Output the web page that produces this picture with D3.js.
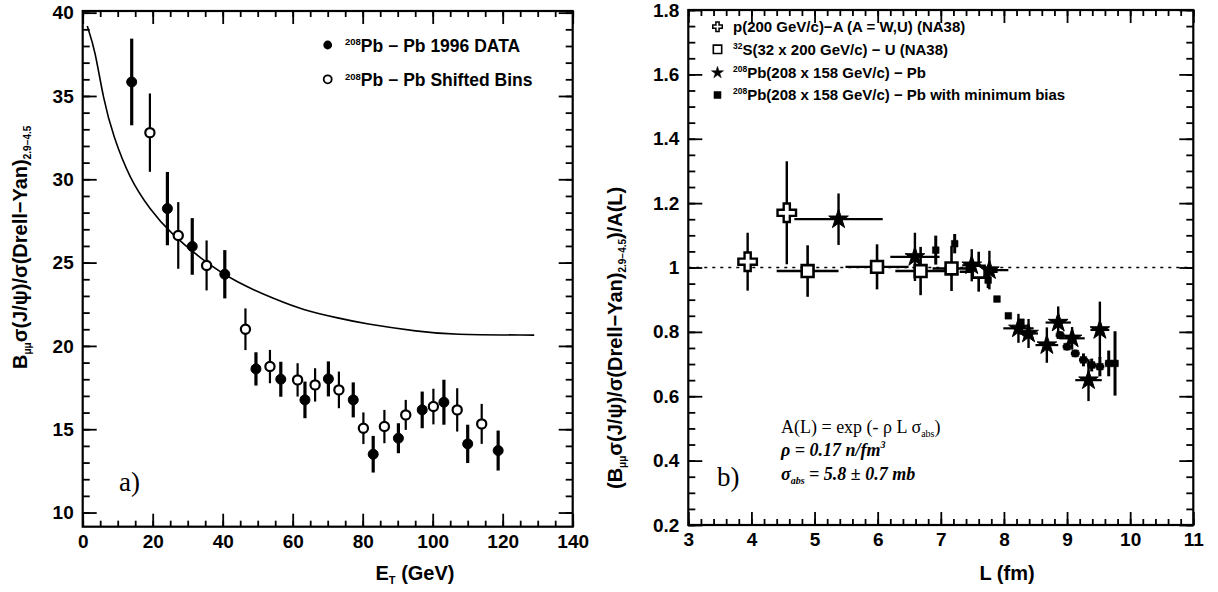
<!DOCTYPE html>
<html>
<head>
<meta charset="utf-8">
<script src="https://cdn.jsdelivr.net/npm/d3@7"></script>
<style>
body{margin:0;background:#fff}
svg text{font-family:"Liberation Sans",Arial,sans-serif;font-weight:bold;fill:#000}
svg text.serif{font-family:"Liberation Serif","Times New Roman",serif;font-weight:normal}
svg text.serif.bi{font-weight:bold;font-style:italic}
</style>
</head>
<body>
<script>
// ---- panel a) : J/psi over Drell-Yan vs E_T ----
var etData   = [14.0, 24.2, 31.3, 40.6, 49.5, 56.6, 63.5, 70.2, 77.3, 83.0, 90.2, 97.0, 103.2, 110.0, 118.7];
var ratioData = [35.84, 28.24, 25.97, 24.3, 18.62, 18.0, 16.76, 18.02, 16.76, 13.5, 14.46, 16.16, 16.62, 14.12, 13.72];
var errData  = [2.6, 2.2, 1.7, 1.45, 1.0, 1.05, 1.1, 1.05, 1.05, 1.1, 0.9, 1.1, 1.35, 1.15, 1.2];

var etShift   = [19.2, 27.3, 35.4, 46.5, 53.5, 61.4, 66.4, 73.2, 80.2, 86.2, 92.3, 100.2, 107.0, 114.0];
var ratioShift = [32.8, 26.63, 24.83, 21.0, 18.76, 17.96, 17.66, 17.36, 15.06, 15.16, 15.86, 16.36, 16.16, 15.32];
var errShift  = [2.35, 2.0, 1.5, 1.25, 1.0, 1.0, 1.0, 1.1, 0.95, 1.0, 0.9, 1.07, 1.3, 1.2];

var curveEt    = [1.3, 3.5, 5.9, 8.7, 13.5, 19.2, 24.9, 34.5, 44, 55, 63, 73.5, 80, 96.4, 105, 129];
var curveRatio = [39.2, 37.8, 34.8, 32.6, 30.0, 28.2, 26.8, 25.1, 23.8, 22.8, 22.15, 21.65, 21.35, 20.85, 20.68, 20.65];

var xTicksA = [0, 20, 40, 60, 80, 100, 120, 140];
var yTicksA = [10, 15, 20, 25, 30, 35, 40];

// ---- panel b) : ratio / A(L) vs L ----
var lPA = [3.94, 4.56], vPA = [1.018, 1.17], eyPA = [0.09, 0.16];

var lSU  = [4.89, 5.99, 6.68, 7.17, 7.6];
var vSU  = [0.989, 1.002, 0.989, 0.997, 0.987];
var eySU = [0.08, 0.07, 0.075, 0.07, 0.062];
var exSU = [0.49, 0.5, 0.4, 0.3, 0.3];

var lPb  = [5.38, 6.59, 7.49, 7.77, 8.23, 8.39, 8.68, 8.86, 9.08, 9.34, 9.52];
var vPb  = [1.15, 1.033, 1.007, 0.992, 0.811, 0.795, 0.759, 0.829, 0.78, 0.65, 0.806];
var eyPb = [0.08, 0.075, 0.05, 0.06, 0.045, 0.045, 0.055, 0.05, 0.035, 0.065, 0.088];
var exPb = [0.7, 0.39, 0.15, 0.3, 0.24, 0.15, 0.18, 0.2, 0.2, 0.21, 0.15];

var lMB  = [6.92, 7.22, 7.45, 7.75, 7.89, 8.07, 8.27, 8.89, 9.0, 9.13, 9.26, 9.39, 9.52, 9.66, 9.76];
var vMB  = [1.054, 1.074, 1.0, 0.961, 0.902, 0.85, 0.83, 0.79, 0.754, 0.733, 0.713, 0.697, 0.692, 0.702, 0.702];
var eyMB = [0.045, 0.03, 0.015, 0.025, 0.008, 0.008, 0.01, 0.012, 0.012, 0.012, 0.02, 0.02, 0.03, 0.04, 0.1];
var exMB = [0.03, 0.03, 0.03, 0.03, 0.03, 0.03, 0.03, 0.07, 0.07, 0.07, 0.07, 0.07, 0.07, 0.06, 0.05];

var xTicksB = [3, 4, 5, 6, 7, 8, 9, 10, 11];
var yTicksB = [0.2, 0.4, 0.6, 0.8, 1, 1.2, 1.4, 1.6, 1.8];

var svg = d3.select("body").append("svg")
    .attr("width", 1218).attr("height", 592);

function frameAxes(x, y, xt, xm, yt, ym) {
    var X = x.range(), Y = y.range();
    var g = svg.append("g");
    function add(gen, tx, ty, vals, size, labels) {
        var a = g.append("g").attr("transform", "translate(" + tx + "," + ty + ")")
            .call(gen.tickValues(vals).tickSize(size).tickPadding(labels ? 8 : 0)
                .tickFormat(labels ? function(d){ return d; } : ""));
        a.attr("font-family", null).attr("font-size", 19);
        a.select(".domain").remove();
        a.selectAll(".tick line").attr("stroke", "#000").attr("stroke-width", 1.8);
        return a;
    }
    add(d3.axisBottom(x), 0, Y[0], xt, -13, true);
    add(d3.axisBottom(x), 0, Y[0], xm, -6, false);
    add(d3.axisTop(x), 0, Y[1], xt, -13, false);
    add(d3.axisTop(x), 0, Y[1], xm, -6, false);
    add(d3.axisLeft(y), X[0], 0, yt, -14, true).selectAll("text").attr("dx", "-0.05em");
    add(d3.axisLeft(y), X[0], 0, ym, -7, false);
    add(d3.axisRight(y), X[1], 0, yt, -14, false);
    add(d3.axisRight(y), X[1], 0, ym, -7, false);
    g.append("rect")
        .attr("x", X[0]).attr("y", Y[1])
        .attr("width", X[1] - X[0]).attr("height", Y[0] - Y[1])
        .attr("fill", "none").attr("stroke", "#000").attr("stroke-width", 2.2);
}

// ================= panel a =================
var xA = d3.scaleLinear().domain([0, 140]).range([82.7, 572.7]);
var yA = d3.scaleLinear().domain([9.15, 40.1]).range([526.7, 11]);

frameAxes(xA, yA, xTicksA, d3.range(0, 141, 5), yTicksA, d3.range(10, 41, 1));

var curve = d3.line()
    .x(function(d, i){ return xA(curveEt[i]); })
    .y(function(d, i){ return yA(curveRatio[i]); })
    .curve(d3.curveBasis);
svg.append("path").datum(curveEt)
    .attr("d", curve).attr("fill", "none").attr("stroke", "#000").attr("stroke-width", 1.6);

function pointsA(ets, vals, errs, filled) {
    var g = svg.append("g");
    g.selectAll("line").data(ets).enter().append("line")
        .attr("x1", function(d){ return xA(d); }).attr("x2", function(d){ return xA(d); })
        .attr("y1", function(d, i){ return yA(vals[i] + errs[i]); })
        .attr("y2", function(d, i){ return yA(vals[i] - errs[i]); })
        .attr("stroke", "#000").attr("stroke-width", filled ? 3.2 : 2.2);
    g.selectAll("circle").data(ets).enter().append("circle")
        .attr("cx", function(d){ return xA(d); })
        .attr("cy", function(d, i){ return yA(vals[i]); })
        .attr("r", filled ? 5 : 4.6)
        .attr("fill", filled ? "#000" : "#fff")
        .attr("stroke", "#000").attr("stroke-width", filled ? 1 : 2.2);
}
pointsA(etData, ratioData, errData, true);
pointsA(etShift, ratioShift, errShift, false);

// legend a
var legA = svg.append("g").attr("font-size", 17.5);
legA.append("circle").attr("cx", 327.7).attr("cy", 45).attr("r", 4.4).attr("fill", "#000");
legA.append("circle").attr("cx", 327.7).attr("cy", 79.3).attr("r", 4)
    .attr("fill", "#fff").attr("stroke", "#000").attr("stroke-width", 1.8);
[["Pb − Pb 1996 DATA", 51.5], ["Pb − Pb Shifted Bins", 86]].forEach(function(r){
    var t = legA.append("text").attr("x", 345).attr("y", r[1]);
    t.append("tspan").attr("font-size", 9.5).attr("dy", -6.5).text("208");
    t.append("tspan").attr("dy", 6.5).text(r[0]);
});

svg.append("text").attr("class", "serif").attr("x", 119).attr("y", 491)
    .attr("font-size", 27).text("a)");

// axis titles
var tA = svg.append("text").attr("x", 415).attr("y", 580).attr("text-anchor", "middle").attr("font-size", 20);
tA.append("tspan").text("E");
tA.append("tspan").attr("font-size", 11).attr("dy", 4).text("T");
tA.append("tspan").attr("dy", -4).text(" (GeV)");

function yTitle(x, y, pre, post) {
    var t = svg.append("text").attr("transform", "translate(" + x + "," + y + ") rotate(-90)")
        .attr("text-anchor", "start").attr("font-size", 20);
    t.append("tspan").text(pre + "B");
    t.append("tspan").attr("font-size", 10).attr("dy", 4).text("μμ");
    t.append("tspan").attr("dy", -4).text("σ(J/ψ)/σ(Drell−Yan)");
    t.append("tspan").attr("font-size", 10).attr("dy", 4).text("2.9−4.5");
    t.append("tspan").attr("dy", -4).text(post);
}
yTitle(27, 369, "", "");

// ================= panel b =================
var xB = d3.scaleLinear().domain([3, 11]).range([688.3, 1193.3]);
var yB = d3.scaleLinear().domain([0.2, 1.8]).range([525, 10]);

frameAxes(xB, yB, xTicksB, d3.range(3, 11.01, 0.2), yTicksB, d3.range(0.2, 1.801, 0.05));

svg.append("line")
    .attr("x1", xB(3)).attr("x2", xB(11)).attr("y1", yB(1)).attr("y2", yB(1))
    .attr("stroke", "#000").attr("stroke-width", 1.5).attr("stroke-dasharray", "3,5");

function errB(ls, vs, eys, exs, wy, wx) {
    var g = svg.append("g").attr("stroke", "#000");
    g.selectAll(".ey").data(ls).enter().append("line")
        .attr("x1", function(d){ return xB(d); }).attr("x2", function(d){ return xB(d); })
        .attr("y1", function(d, i){ return yB(vs[i] + eys[i]); })
        .attr("y2", function(d, i){ return yB(vs[i] - eys[i]); })
        .attr("stroke-width", wy);
    if (exs) g.selectAll(".ex").data(ls).enter().append("line")
        .attr("x1", function(d, i){ return xB(d - exs[i]); })
        .attr("x2", function(d, i){ return xB(d + exs[i]); })
        .attr("y1", function(d, i){ return yB(vs[i]); })
        .attr("y2", function(d, i){ return yB(vs[i]); })
        .attr("stroke-width", wx);
}
function symB(ls, vs, type, size, fill, sw) {
    svg.append("g").selectAll("path").data(ls).enter().append("path")
        .attr("transform", function(d, i){ return "translate(" + xB(d) + "," + yB(vs[i]) + ")"; })
        .attr("d", d3.symbol().type(type).size(size))
        .attr("fill", fill).attr("stroke", "#000").attr("stroke-width", sw);
}

errB(lSU, vSU, eySU, exSU, 2.6, 2.4);
errB(lPb, vPb, eyPb, exPb, 2.4, 2.2);
errB(lPA, vPA, eyPA, null, 2.4, 0);
errB(lMB, vMB, eyMB, exMB, 3, 3.5);
symB(lMB, vMB, d3.symbolSquare, 45, "#000", 0.5);
symB(lSU, vSU, d3.symbolSquare, 140, "#fff", 2.6);
symB(lPb, vPb, d3.symbolStar, 120, "#000", 1);
symB(lPA, vPA, d3.symbolCross, 190, "#fff", 2.4);

// legend b
var legRows = [
    ["", "p(200 GeV/c)−A (A = W,U) (NA38)", d3.symbolCross, 50, "#fff", 1.5],
    ["32", "S(32 x 200 GeV/c) − U (NA38)", d3.symbolSquare, 70, "#fff", 1.6],
    ["208", "Pb(208 x 158 GeV/c) − Pb", d3.symbolStar, 45, "#000", 0.5],
    ["208", "Pb(208 x 158 GeV/c) − Pb with minimum bias", d3.symbolSquare, 50, "#000", 0.5]
];
var legRowY = [26.7, 49.3, 72.7, 95];
var legB = svg.append("g").attr("font-size", 15);
legRows.forEach(function(r, i){
    legB.append("path")
        .attr("transform", "translate(717.5," + legRowY[i] + ")")
        .attr("d", d3.symbol().type(r[2]).size(r[3]))
        .attr("fill", r[4]).attr("stroke", "#000").attr("stroke-width", r[5]);
    var t = legB.append("text").attr("x", 733).attr("y", legRowY[i] + 5.3);
    if (r[0]) {
        t.append("tspan").attr("font-size", 8.5).attr("dy", -6).text(r[0]);
        t.append("tspan").attr("dy", 6).text(r[1]);
    } else t.text(r[1]);
});

// absorption formula
var f1 = svg.append("text").attr("class", "serif").attr("x", 781).attr("y", 433).attr("font-size", 18);
f1.append("tspan").text("A(L) =  exp (- ρ L σ");
f1.append("tspan").attr("font-size", 10).attr("dy", 4).text("abs");
f1.append("tspan").attr("dy", -4).text(")");
var f2 = svg.append("text").attr("class", "serif bi").attr("x", 781).attr("y", 456).attr("font-size", 18);
f2.append("tspan").text("ρ = 0.17 n/fm");
f2.append("tspan").attr("font-size", 10).attr("dy", -8).text("3");
var f3 = svg.append("text").attr("class", "serif bi").attr("x", 781).attr("y", 480).attr("font-size", 18);
f3.append("tspan").text("σ");
f3.append("tspan").attr("font-size", 10).attr("dy", 4).text("abs");
f3.append("tspan").attr("dy", -4).text(" = 5.8  ± 0.7 mb");

svg.append("text").attr("class", "serif").attr("x", 717).attr("y", 486)
    .attr("font-size", 27).text("b)");

svg.append("text").attr("x", 1007).attr("y", 580).attr("text-anchor", "middle")
    .attr("font-size", 20).text("L (fm)");
yTitle(622, 489, "(", ")/A(L)");
</script>
</body>
</html>
